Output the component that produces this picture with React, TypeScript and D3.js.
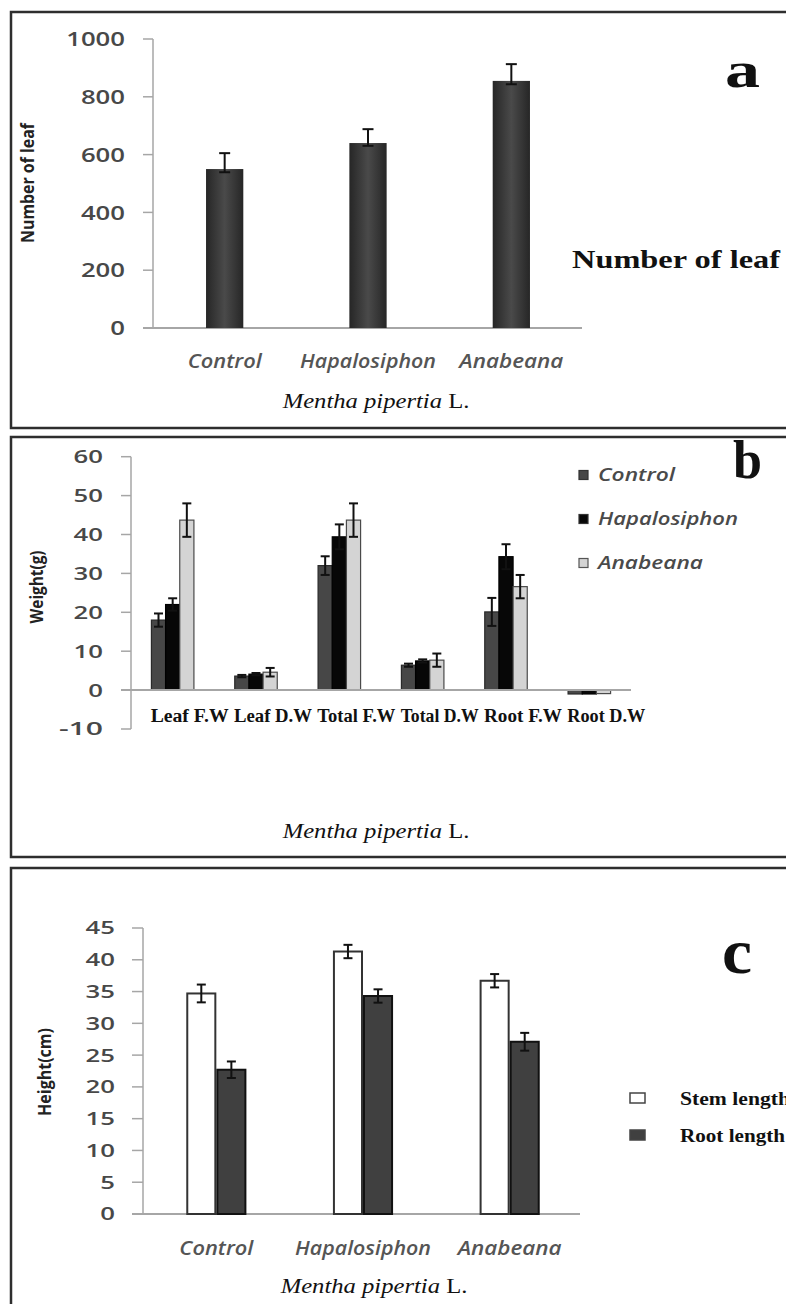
import React from 'react';
import * as d3 from 'd3';

// ---- panel a: number of leaf
const LEAF_GROUPS = ['Control', 'Hapalosiphon', 'Anabeana'];
const LEAF_MEAN = [550, 640, 855];
const LEAF_SE = [55, 48, 58];
const LEAF_TICKS = [0, 200, 400, 600, 800, 1000];

// ---- panel b: weights
const WEIGHT_PARTS = ['Leaf F.W', 'Leaf D.W', 'Total F.W', 'Total D.W', 'Root F.W', 'Root D.W'];
const WEIGHT_SERIES = ['Control', 'Hapalosiphon', 'Anabeana'];
const W_CONTROL = [18.0, 3.6, 32.0, 6.4, 20.1, -1.0];
const W_CONTROL_SE = [1.7, 0.3, 2.4, 0.4, 3.6, 0.2];
const W_HAPALO = [22.0, 4.1, 39.4, 7.5, 34.3, -1.0];
const W_HAPALO_SE = [1.6, 0.3, 3.2, 0.4, 3.2, 0.2];
const W_ANABEANA = [43.7, 4.6, 43.7, 7.7, 26.6, -0.9];
const W_ANABEANA_SE = [4.3, 1.1, 4.3, 1.7, 3.0, 0.2];
const WEIGHT_TICKS = [-10, 0, 10, 20, 30, 40, 50, 60];

// ---- panel c: heights
const HEIGHT_GROUPS = ['Control', 'Hapalosiphon', 'Anabeana'];
const HEIGHT_SERIES = ['Stem length', 'Root length'];
const STEM_LEN = [34.7, 41.3, 36.7];
const STEM_SE = [1.4, 1.05, 1.05];
const ROOT_LEN = [22.7, 34.3, 27.1];
const ROOT_SE = [1.3, 1.05, 1.4];
const HEIGHT_TICKS = [0, 5, 10, 15, 20, 25, 30, 35, 40, 45];

const AXIS = '#a6a6a6';
const TICK_TXT = '#484848';
const SANS = '"Open Sans", "DejaVu Sans", sans-serif';
const SERIF = '"Liberation Serif", "Times New Roman", serif';

const weightRows = WEIGHT_SERIES.map((s, i) => ({
  name: s,
  values: [W_CONTROL, W_HAPALO, W_ANABEANA][i],
  se: [W_CONTROL_SE, W_HAPALO_SE, W_ANABEANA_SE][i],
  fill: ['#474747', '#070707', '#d4d4d4'][i],
  stroke: ['#2a2a2a', '#000', '#4a4a4a'][i],
}));

const heightRows = HEIGHT_SERIES.map((s, i) => ({
  name: s,
  values: [STEM_LEN, ROOT_LEN][i],
  se: [STEM_SE, ROOT_SE][i],
  fill: ['#ffffff', '#404040'][i],
  stroke: ['#333', '#111'][i],
}));

function ErrBar({ x, yTop, yBot, w = 10 }: { x: number; yTop: number; yBot: number; w?: number }) {
  return (
    <g stroke="#111" strokeWidth={2}>
      <line x1={x} x2={x} y1={yTop} y2={yBot} />
      <line x1={x - w / 2} x2={x + w / 2} y1={yTop} y2={yTop} />
      <line x1={x - w / 2} x2={x + w / 2} y1={yBot} y2={yBot} />
    </g>
  );
}

function YAxis({ y, ticks, x, right, size, x0 }: any) {
  const [lo, hi] = d3.extent(ticks) as [number, number];
  return (
    <g>
      <line x1={x} x2={x} y1={y(hi)} y2={y(lo)} stroke={AXIS} strokeWidth={1.5} />
      {ticks.map((t: number) => (
        <g key={t}>
          <line x1={x0} x2={x} y1={y(t)} y2={y(t)} stroke={AXIS} strokeWidth={1.5} />
          <text
            x={right}
            y={y(t)}
            dy="0.36em"
            textAnchor="end"
            fontFamily={SANS}
            fontWeight={600}
            fontSize={size}
            fill={TICK_TXT}
            textLength={String(t).length * 14.7}
            lengthAdjust="spacingAndGlyphs"
          >
            {t}
          </text>
        </g>
      ))}
    </g>
  );
}

function YTitle({ x, y, text, len }: { x: number; y: number; text: string; len: number }) {
  return (
    <g transform={`translate(${x},${y}) scale(1.3,1) rotate(-90)`}>
      <text
        textAnchor="middle"
        dominantBaseline="middle"
        fontFamily={SANS}
        fontWeight="bold"
        fontSize={13}
        fill="#222"
        textLength={len}
        lengthAdjust="spacingAndGlyphs"
      >
        {text}
      </text>
    </g>
  );
}

function Species({ cx, y }: { cx: number; y: number }) {
  return (
    <g transform={`translate(${cx},${y}) scale(1.12,1)`}>
      <text textAnchor="middle" fontFamily={SERIF} fontSize={22} fill="#111">
        <tspan fontStyle="italic">Mentha pipertia</tspan>
        <tspan> L.</tspan>
      </text>
    </g>
  );
}

function GroupLabel({ x, y, text, len }: { x: number; y: number; text: string; len: number }) {
  return (
    <text
      x={x}
      y={y}
      textAnchor="middle"
      fontFamily={SANS}
      fontStyle="italic"
      fontWeight={600}
      fontSize={19}
      fill="#555"
      textLength={len}
      lengthAdjust="spacingAndGlyphs"
    >
      {text}
    </text>
  );
}

const GROUP_LEN: Record<string, number> = { Control: 74, Hapalosiphon: 136, Anabeana: 104 };

export default function App() {
  // panel a scales
  const ya = d3.scaleLinear().domain([0, 1000]).range([328, 39]);
  const xa = d3.scaleBand().domain(LEAF_GROUPS).range([153, 583]).paddingInner(0.74).paddingOuter(0.37);

  // panel b scales
  const yb = d3.scaleLinear().domain([-10, 60]).range([729, 456.7]);
  const xb0 = d3.scaleBand().domain(WEIGHT_PARTS).range([131, 631]).paddingInner(0.49).paddingOuter(0.245);
  const xb1 = d3.scaleBand().domain(WEIGHT_SERIES).range([0, xb0.bandwidth()]);

  // panel c scales
  const yc = d3.scaleLinear().domain([0, 45]).range([1214, 928]);
  const xc0 = d3.scaleBand().domain(HEIGHT_GROUPS).range([143, 583]).paddingInner(0.59).paddingOuter(0.295);
  const xc1 = d3.scaleBand().domain(HEIGHT_SERIES).range([0, xc0.bandwidth()]);

  return (
    <svg
      width={786}
      height={1304}
      style={{ position: 'absolute', left: 0, top: 0, background: '#fff' }}
    >
      <defs>
        <linearGradient id="barA" x1="0" x2="1" y1="0" y2="0">
          <stop offset="0" stopColor="#262626" />
          <stop offset="0.5" stopColor="#4a4a4a" />
          <stop offset="1" stopColor="#262626" />
        </linearGradient>
      </defs>
      <rect width={786} height={1304} fill="#fff" />

      {/* frames */}
      <g fill="none" stroke="#2e2e2e" strokeWidth={2.5}>
        <rect x={11} y={12} width={800} height={416} />
        <rect x={11} y={437} width={800} height={420} />
        <rect x={11} y={868} width={800} height={450} />
      </g>

      {/* ================= panel a ================= */}
      <YAxis y={ya} ticks={LEAF_TICKS} x={153} x0={143} right={125} size={20} />
      <line x1={143} x2={582} y1={ya(0)} y2={ya(0)} stroke={AXIS} strokeWidth={2} />
      {LEAF_GROUPS.map((g, i) => {
        const x = xa(g)!;
        const cx = x + xa.bandwidth() / 2;
        return (
          <g key={g}>
            <rect x={x} y={ya(LEAF_MEAN[i])} width={xa.bandwidth()} height={ya(0) - ya(LEAF_MEAN[i])} fill="url(#barA)" />
            <ErrBar x={cx} yTop={ya(LEAF_MEAN[i] + LEAF_SE[i])} yBot={ya(LEAF_MEAN[i] - LEAF_SE[i] * 0.2)} w={11} />
            <GroupLabel x={cx} y={368} text={g} len={GROUP_LEN[g]} />
          </g>
        );
      })}
      <YTitle x={29} y={183} text="Number of leaf" len={120} />
      <Species cx={376} y={408} />
      <text x={725} y={87} fontFamily={SERIF} fontWeight="bold" fontSize={50} fill="#111" textLength={35} lengthAdjust="spacingAndGlyphs">a</text>
      <text x={572} y={268} fontFamily={SERIF} fontWeight="bold" fontSize={26} fill="#111" textLength={208} lengthAdjust="spacingAndGlyphs">
        Number of leaf
      </text>

      {/* ================= panel b ================= */}
      <YAxis y={yb} ticks={WEIGHT_TICKS} x={131} x0={121} right={103} size={18} />
      {WEIGHT_PARTS.map((p, j) => (
        <g key={p}>
          {weightRows.map((r) => {
            const v = r.values[j];
            const x = xb0(p)! + xb1(r.name)!;
            const cx = x + xb1.bandwidth() / 2;
            const top = yb(Math.max(v, 0));
            const h = Math.abs(yb(v) - yb(0));
            return (
              <g key={r.name}>
                <rect x={x} y={top} width={xb1.bandwidth()} height={h} fill={r.fill} stroke={r.stroke} strokeWidth={1.2} />
                {v > 0 && <ErrBar x={cx} yTop={yb(v + r.se[j])} yBot={yb(v - r.se[j])} w={9} />}
              </g>
            );
          })}
        </g>
      ))}
      <line x1={121} x2={631} y1={yb(0)} y2={yb(0)} stroke={AXIS} strokeWidth={2} />
      {WEIGHT_PARTS.map((p) => (
        <text
          key={p}
          x={xb0(p)! + xb0.bandwidth() / 2 + 17}
          y={722}
          textAnchor="middle"
          fontFamily={SERIF}
          fontWeight="bold"
          fontSize={18}
          fill="#111"
          textLength={78}
          lengthAdjust="spacingAndGlyphs"
        >
          {p}
        </text>
      ))}
      <YTitle x={38} y={587} text="Weight(g)" len={73} />
      {weightRows.map((r, i) => {
        const yy = 475 + i * 44;
        return (
          <g key={r.name}>
            <rect x={579} y={yy - 4.5} width={9} height={9} fill={r.fill} stroke={i === 2 ? '#555' : '#333'} strokeWidth={1.2} />
            <text
              x={598}
              y={yy + 5.5}
              fontFamily={SANS}
              fontStyle="italic"
              fontWeight={600}
              fontSize={18}
              fill="#4a4a4a"
              textLength={[77, 140, 105][i]}
              lengthAdjust="spacingAndGlyphs"
            >
              {r.name}
            </text>
          </g>
        );
      })}
      <text x={733} y={478} fontFamily={SERIF} fontWeight="bold" fontSize={54} fill="#111" textLength={29} lengthAdjust="spacingAndGlyphs">b</text>
      <Species cx={376} y={838} />

      {/* ================= panel c ================= */}
      <YAxis y={yc} ticks={HEIGHT_TICKS} x={143} x0={132} right={115} size={18} />
      <line x1={132} x2={580} y1={yc(0)} y2={yc(0)} stroke={AXIS} strokeWidth={2} />
      {HEIGHT_GROUPS.map((g, j) => (
        <g key={g}>
          {heightRows.map((r) => {
            const v = r.values[j];
            const x = xc0(g)! + xc1(r.name)!;
            const cx = x + xc1.bandwidth() / 2;
            return (
              <g key={r.name}>
                <rect x={x + 1} y={yc(v)} width={xc1.bandwidth() - 2} height={yc(0) - yc(v)} fill={r.fill} stroke={r.stroke} strokeWidth={2} />
                <ErrBar x={cx} yTop={yc(v + r.se[j])} yBot={yc(v - r.se[j])} w={9} />
              </g>
            );
          })}
          <GroupLabel x={xc0(g)! + xc0.bandwidth() / 2} y={1255} text={g} len={GROUP_LEN[g]} />
        </g>
      ))}
      <YTitle x={46} y={1072} text="Height(cm)" len={88} />
      <text x={722} y={973} fontFamily={SERIF} fontWeight="bold" fontSize={64} fill="#111" textLength={30} lengthAdjust="spacingAndGlyphs">c</text>
      {heightRows.map((r, i) => {
        const yy = 1098 + i * 37;
        return (
          <g key={r.name}>
            <rect x={630} y={yy - 5} width={15} height={10} fill={r.fill} stroke="#444" strokeWidth={1.5} />
            <text
              x={680}
              y={yy + 7}
              fontFamily={SERIF}
              fontWeight="bold"
              fontSize={19}
              fill="#111"
              textLength={[110, 105][i]}
              lengthAdjust="spacingAndGlyphs"
            >
              {r.name}
            </text>
          </g>
        );
      })}
      <Species cx={374} y={1293} />
    </svg>
  );
}
